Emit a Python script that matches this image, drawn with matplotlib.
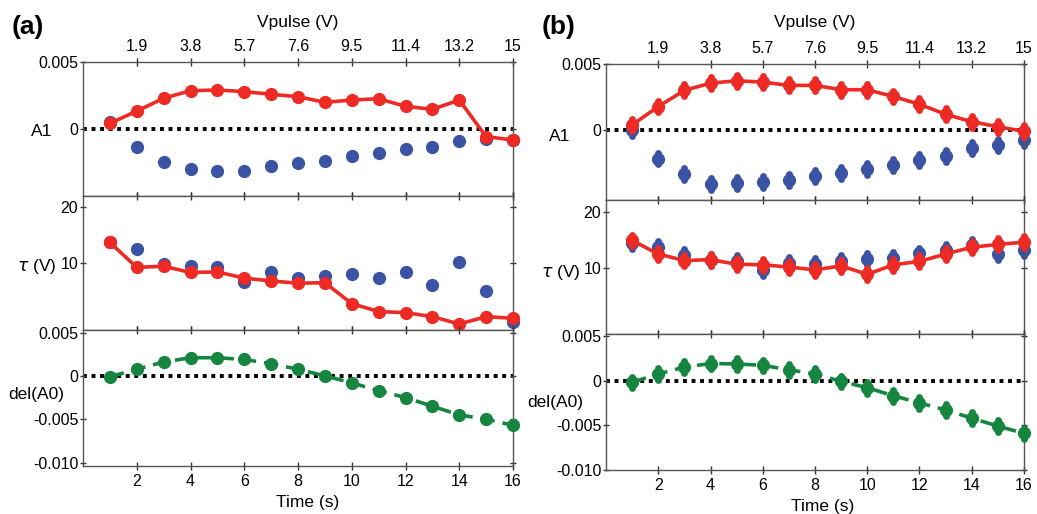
import matplotlib
matplotlib.use("Agg")
import matplotlib.pyplot as plt
import numpy as np

plt.rcParams['font.family'] = ['Liberation Sans', 'DejaVu Sans']

# ---------------- data ----------------
time_s = [1, 2, 3, 4, 5, 6, 7, 8, 9, 10, 11, 12, 13, 14, 15, 16]
time_ticks = [2, 4, 6, 8, 10, 12, 14, 16]
vpulse_labels = ['1.9', '3.8', '5.7', '7.6', '9.5', '11.4', '13.2', '15']

# panel (a)
a_A1_red = [0.00042, 0.00134, 0.00229, 0.00286, 0.00291, 0.00279, 0.00259, 0.00241,
            0.00199, 0.00216, 0.00226, 0.00169, 0.00147, 0.00216, -0.00057, -0.00082]
a_A1_blue = [0.00055, -0.00132, -0.00244, -0.00301, -0.00311, -0.00313, -0.00276, -0.00256,
             -0.00239, -0.00201, -0.00182, -0.00147, -0.00132, -0.00087, -0.00077, -0.00082]
a_tau_red = [13.7, 9.3, 9.5, 8.4, 8.5, 7.4, 6.9, 6.5, 6.6, 2.9, 1.5, 1.3, 0.6, -0.7, 0.6, 0.3]
a_tau_blue = [13.7, 12.6, 9.9, 9.6, 9.3, 6.8, 8.4, 7.4, 7.8, 8.2, 7.5, 8.4, 6.2, 10.3, 5.1, -0.3]
a_dA0 = [-0.0001, 0.00077, 0.0016, 0.0021, 0.0021, 0.0019, 0.0014, 0.00077,
         0.0, -0.0008, -0.0017, -0.0025, -0.0035, -0.0045, -0.0050, -0.0057]

# panel (b)
b_A1_red = [0.00038, 0.00178, 0.0030, 0.00355, 0.00373, 0.00363, 0.00338, 0.00338,
            0.00305, 0.00305, 0.00254, 0.00195, 0.00119, 0.00063, 0.00025, -0.0001]
b_A1_blue = [0.0, -0.00216, -0.0033, -0.00406, -0.0040, -0.00393, -0.0038, -0.0035,
             -0.00325, -0.00292, -0.00266, -0.00228, -0.00195, -0.00135, -0.00114, -0.00076]
b_tau_red = [14.9, 12.5, 11.35, 11.5, 10.7, 10.6, 10.2, 9.7, 10.4, 8.9, 10.6, 11.2, 12.5, 13.7, 14.2, 14.6]
b_tau_blue = [14.4, 13.7, 12.35, 11.5, 11.3, 9.7, 11.0, 10.8, 11.2, 11.6, 11.8, 12.6, 13.2, 14.1, 12.5, 13.2]
b_dA0 = [-0.0002, 0.00074, 0.0015, 0.0019, 0.00185, 0.0017, 0.0012, 0.00074,
         -0.0001, -0.0008, -0.0017, -0.0025, -0.0033, -0.0042, -0.0051, -0.0059]

RED = '#ee2a24'
BLUE = '#3a53a4'
GREEN = '#16853f'
SPINE = '#555555'

W, H = 1037, 514
fig = plt.figure(figsize=(W / 100, H / 100), dpi=100)


def rect(x0, x1, y0, y1):
    return [x0 / W, 1 - y1 / H, (x1 - x0) / W, (y1 - y0) / H]


def style(ax, top_labels=False, bottom_labels=False):
    ax.set_xlim(0, 16)
    ax.set_xticks(time_ticks)
    for s in ax.spines.values():
        s.set_color(SPINE)
        s.set_linewidth(1.0)
    ax.tick_params(axis='x', which='both', direction='inout', length=6, width=1,
                   color='#333333', top=True, bottom=True,
                   labeltop=top_labels, labelbottom=bottom_labels,
                   labelsize=11.5, pad=3)
    ax.tick_params(axis='y', which='both', direction='inout', length=5, width=1,
                   color='#333333', right=True, labelsize=11.5, pad=1)
    if top_labels:
        ax.set_xticklabels(vpulse_labels)
    if bottom_labels:
        ax.set_xticklabels([str(t) for t in time_ticks])


def zero_line(ax):
    ax.axhline(0, color='black', linestyle=(0, (1, 1.2)), linewidth=2.8, zorder=1)


def pts(ax, x, y, err, fmt, color, **kw):
    if err is not None:
        c = ax.errorbar(x, y, yerr=err, fmt=fmt, color=color, ms=8.5,
                        elinewidth=5, capsize=0, **kw)
        c.lines[0].set_clip_on(False)
        for coll in c.lines[2]:
            coll.set_clip_on(False)
            coll.set_capstyle('round')
    else:
        ln, = ax.plot(x, y, fmt, color=color, ms=8.5, **kw)
        ln.set_clip_on(False)


def draw_panel(xl, xr, ys, A1_red, A1_blue, tau_red, tau_blue, dA0, lims, errbars):
    ax1 = fig.add_axes(rect(xl, xr, ys[0], ys[1]))
    ax2 = fig.add_axes(rect(xl, xr, ys[1], ys[2]))
    ax3 = fig.add_axes(rect(xl, xr, ys[2], ys[3]))

    eA = 0.00045 if errbars else None
    eT = 1.05 if errbars else None
    eD = 0.00065 if errbars else None

    # top: A1
    zero_line(ax1)
    pts(ax1, time_s, A1_blue, eA, 'o', BLUE, zorder=2)
    pts(ax1, time_s, A1_red, eA, 'o-', RED, lw=2.6, zorder=3)
    ax1.set_ylim(*lims[0])
    ax1.set_yticks([0, 0.005])
    ax1.set_yticklabels(['0', '0.005'])
    style(ax1, top_labels=True)

    # middle: tau
    pts(ax2, time_s, tau_blue, eT, 'o', BLUE, zorder=2)
    pts(ax2, time_s, tau_red, eT, 'o-', RED, lw=2.6, zorder=3)
    ax2.set_ylim(*lims[1])
    ax2.set_yticks([10, 20])
    style(ax2)

    # bottom: del(A0)
    zero_line(ax3)
    pts(ax3, time_s, dA0, eD, 'o', GREEN, linestyle=(0, (4, 2.2)), lw=2.6, zorder=3)
    ax3.set_ylim(*lims[2])
    ax3.set_yticks([-0.010, -0.005, 0, 0.005])
    ax3.set_yticklabels(['-0.010', '-0.005', '0', '0.005'])
    style(ax3, bottom_labels=True)
    return ax1, ax2, ax3


draw_panel(83, 513, [62, 196, 330, 466], a_A1_red, a_A1_blue, a_tau_red, a_tau_blue, a_dA0,
           [(-0.005, 0.005), (-1.76, 21.9), (-0.0104, 0.0053)], errbars=False)
draw_panel(606, 1024, [64, 200, 334, 470], b_A1_red, b_A1_blue, b_tau_red, b_tau_blue, b_dA0,
           [(-0.0053, 0.005), (-1.65, 22.06), (-0.0100, 0.0052)], errbars=True)


def ftext(x, y, s, **kw):
    fig.text(x / W, 1 - y / H, s, ha='center', va='center', **kw)


# panel (a) texts
ftext(28, 27, '(a)', fontsize=19, fontweight='bold')
ftext(298, 23, 'Vpulse (V)', fontsize=12.5)
ftext(42, 131, 'A1', fontsize=12.5)
ftext(37, 266, r'$\mathit{\tau}$ (V)', fontsize=12.5)
ftext(36, 394, 'del(A0)', fontsize=12.5)
ftext(308, 502, 'Time (s)', fontsize=12.5)

# panel (b) texts
ftext(559, 27, '(b)', fontsize=19, fontweight='bold')
ftext(815, 23, 'Vpulse (V)', fontsize=12.5)
ftext(560, 137, 'A1', fontsize=12.5)
ftext(561, 272, r'$\mathit{\tau}$ (V)', fontsize=12.5)
ftext(555, 402, 'del(A0)', fontsize=12.5)
ftext(823, 506, 'Time (s)', fontsize=12.5)

fig.savefig('out.png', dpi=100)
